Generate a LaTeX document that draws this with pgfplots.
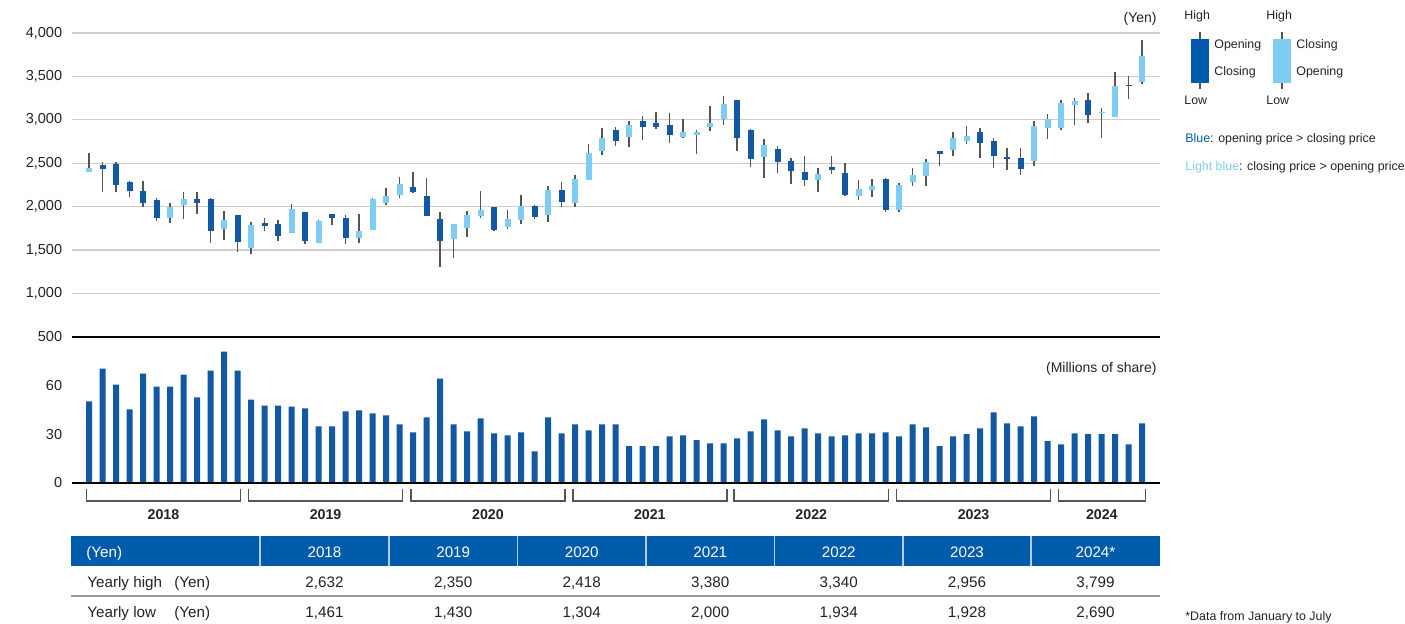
\documentclass[border=0pt]{standalone}
\usepackage{pgfplots}
\pgfplotsset{compat=1.18}
\usepackage{pgfplotstable}
\usepackage{fontspec}
\setmainfont{Liberation Sans}
\definecolor{cdark}{RGB}{18,88,162}
\definecolor{clight}{RGB}{127,205,243}
\definecolor{chead}{RGB}{0,91,170}
\definecolor{cgrid}{RGB}{205,205,205}
\definecolor{cwick}{RGB}{85,85,85}
\definecolor{ctext}{RGB}{35,35,35}
\newcommand{\fs}[1]{\fontsize{#1}{#1}\selectfont}

\pgfplotstableread{
i o c h l v
0 2404 2446 2616 2400 50.1
1 2484 2438 2519 2173 70.4
2 2496 2254 2512 2166 60.5
3 2285 2184 2300 2108 45.2
4 2181 2046 2300 2000 67.3
5 2077 1873 2097 1835 59.3
6 1873 1993 2043 1808 59.3
7 2023 2089 2170 1862 66.7
8 2089 2046 2170 1916 52.6
9 2089 1723 2095 1585 69.1
10 1743 1850 1947 1612 80.8
11 1904 1596 1904 1478 69.1
12 1527 1789 1820 1451 51.3
13 1808 1781 1866 1716 47.6
14 1800 1666 1843 1608 47.6
15 1700 1973 2031 1700 47.0
16 1939 1608 1939 1570 45.8
17 1585 1839 1847 1580 34.8
18 1916 1873 1916 1789 34.8
19 1870 1643 1904 1570 44.0
20 1643 1720 1916 1585 44.6
21 1735 2089 2095 1725 42.7
22 2043 2127 2219 2020 41.5
23 2135 2262 2339 2104 36.0
24 2227 2170 2400 2160 31.1
25 2123 1896 2327 1889 40.3
26 1858 1608 1942 1310 64.2
27 1627 1800 1805 1405 36.0
28 1758 1904 1950 1654 31.7
29 1896 1962 2185 1866 39.7
30 1996 1731 2000 1723 30.5
31 1766 1858 1962 1739 29.2
32 1850 2008 2131 1804 31.1
33 2008 1881 2020 1862 19.4
34 1904 2193 2239 1820 40.3
35 2193 2058 2281 2000 30.5
36 2039 2319 2366 2000 36.0
37 2311 2621 2725 2305 32.3
38 2638 2785 2911 2592 36.0
39 2877 2754 2919 2704 36.0
40 2800 2946 2992 2692 22.5
41 2981 2915 3046 2769 22.5
42 2958 2915 3092 2892 22.5
43 2946 2823 3081 2731 28.6
44 2800 2854 3004 2796 29.2
45 2823 2865 2888 2604 26.2
46 2915 2969 3157 2869 24.3
47 3004 3177 3269 2935 24.3
48 3223 2785 3230 2638 27.4
49 2888 2554 2892 2462 31.7
50 2577 2715 2777 2327 39.1
51 2669 2511 2700 2389 32.3
52 2531 2408 2562 2262 28.6
53 2404 2304 2581 2235 33.5
54 2304 2381 2446 2165 30.5
55 2462 2423 2585 2373 28.6
56 2389 2139 2504 2123 29.2
57 2127 2204 2312 2073 30.5
58 2196 2239 2319 2112 30.5
59 2323 1958 2327 1939 31.1
60 1966 2254 2273 1935 28.6
61 2281 2369 2446 2239 36.0
62 2358 2515 2550 2235 34.2
63 2635 2604 2640 2473 22.5
64 2650 2796 2865 2581 28.6
65 2754 2808 2934 2723 29.9
66 2865 2731 2900 2562 33.5
67 2761 2581 2796 2450 43.4
68 2573 2546 2677 2419 36.6
69 2562 2431 2677 2362 34.8
70 2523 2923 2985 2465 40.9
71 2904 3004 3065 2781 25.6
72 2904 3196 3234 2881 23.7
73 3169 3211 3249 2938 30.5
74 3223 3053 3307 2965 29.9
75 3080 3092 3138 2792 29.9
76 3038 3392 3554 3030 29.9
77 3404 3396 3500 3239 23.7
78 3438 3738 3915 3407 36.6
}\data

\pgfplotsset{
  common/.style={
    scale only axis, width=544pt,
    xmin=-1.26, xmax=79.33,
    axis line style={draw=none},
    xtick=\empty, major tick length=0pt,
    yticklabel style={font=\fs{7.25}, text=ctext, inner sep=0pt, xshift=-4.75pt},
    /pgf/number format/1000 sep={,},
    /pgf/number format/assume math mode=true,
    clip=false,
  }
}

\begin{document}
\begin{tikzpicture}
\path[use as bounding box] (0pt,0pt) rectangle (702.5pt,-311.5pt);

% price axis
\begin{axis}[common,
  at={(36pt,-168.4pt)}, anchor=south west,
  height=151.9pt, ymin=500, ymax=4000,
  ytick={500,1000,...,4000},
  ymajorgrids, grid style={cgrid, line width=0.6pt},
]
\addplot[draw=none, mark=none, forget plot,
  error bars/.cd, y dir=both, y explicit, error mark=none,
  error bar style={draw=cwick, line width=0.65pt, solid}]
  table[x=i, y expr={(\thisrow{h}+\thisrow{l})/2}, y error expr={(\thisrow{h}-\thisrow{l})/2}] {\data};
\addplot[draw=none, mark=none, forget plot,
  restrict expr to domain={\thisrow{o}-\thisrow{c}}{0:5000},
  error bars/.cd, y dir=both, y explicit, error mark=none,
  error bar style={draw=cdark, line width=3pt, solid}]
  table[x=i, y expr={(\thisrow{o}+\thisrow{c})/2}, y error expr={abs(\thisrow{o}-\thisrow{c})/2}] {\data};
\addplot[draw=none, mark=none, forget plot,
  restrict expr to domain={\thisrow{c}-\thisrow{o}}{0:5000},
  error bars/.cd, y dir=both, y explicit, error mark=none,
  error bar style={draw=clight, line width=3pt, solid}]
  table[x=i, y expr={(\thisrow{o}+\thisrow{c})/2}, y error expr={abs(\thisrow{o}-\thisrow{c})/2}] {\data};
\end{axis}

% volume axis
\begin{axis}[common,
  at={(36pt,-241.35pt)}, anchor=south west,
  height=72.95pt, ymin=0, ymax=90,
  ytick={0,30,60},
  ybar, bar width=3pt,
]
\addplot[fill=cdark, draw=none, bar shift=0pt] table[x=i, y=v] {\data};
\draw[black, line width=0.9pt] (rel axis cs:0,0) -- (rel axis cs:1,0);
\draw[black, line width=0.9pt] (rel axis cs:0,1) -- (rel axis cs:1,1);
\end{axis}

\begin{scope}[x=0.5pt,y=-0.5pt]
% units
\node[font=\fs{7}, text=ctext, anchor=east, inner sep=0pt] at (1157,19) {(Yen)};
\node[font=\fs{7}, text=ctext, anchor=east, inner sep=0pt] at (1157,368.5) {(Millions of share)};
% year brackets
\foreach \a/\b/\yr in {86.3/240.6/2018, 248.4/402.7/2019, 410.8/565.1/2020, 572.8/726.8/2021, 733.9/888.6/2022, 896.4/1050.7/2023, 1058.2/1145.4/2024} {
  \draw[cwick, line width=0.7pt] (\a,489) -- (\a,501) -- (\b,501) -- (\b,489);
  \node[font=\fs{7.1}\bfseries, text=ctext] at ({(\a+\b)/2},515) {\yr};
}
% legend
\begin{scope}[every node/.style={font=\fs{6.2}, text=ctext, anchor=west, inner sep=0pt}]
\node at (1184,16) {High};
\draw[cwick, line width=0.7pt] (1200,32) -- (1200,89);
\fill[chead] (1191,39) rectangle (1209.3,82.7);
\node at (1214,45) {Opening};
\node at (1214,72) {Closing};
\node at (1184,100) {Low};
\node at (1266,16) {High};
\draw[cwick, line width=0.7pt] (1282,32) -- (1282,89);
\fill[clight] (1273.3,39) rectangle (1291,82.7);
\node at (1296,45) {Closing};
\node at (1296,72) {Opening};
\node at (1266,100) {Low};
\node at (1185,139) {\textcolor{chead}{Blue}: opening price > closing price};
\node at (1185,167) {\textcolor{clight}{Light blue}: closing price > opening price};
\node at (1185,617) {*Data from January to July};
\end{scope}
% table
\fill[chead] (71,536) rectangle (1160,566);
\foreach \x in {260,389,517.5,646,774.5,903,1031}
  \draw[white!70!chead, line width=0.6pt] (\x,536) -- (\x,566);
\draw[black!40, line width=0.8pt] (71,596) -- (1160,596);
\begin{scope}[every node/.style={font=\fs{7.6}, inner sep=0pt, text height=0.72em, text depth=0.04em}]
\node[white, anchor=west] at (86,551) {(Yen)};
\node[white] at (324.5,551) {2018};
\node[white] at (453.25,551) {2019};
\node[white] at (581.75,551) {2020};
\node[white] at (710.25,551) {2021};
\node[white] at (838.75,551) {2022};
\node[white] at (967,551) {2023};
\node[white] at (1095.5,551) {2024*};
\node[text=ctext, anchor=west] at (87,581) {Yearly high};
\node[text=ctext, anchor=west] at (174,581) {(Yen)};
\node[text=ctext, anchor=west] at (87,611) {Yearly low};
\node[text=ctext, anchor=west] at (174,611) {(Yen)};
\node[text=ctext] at (324.5,581) {2,632};
\node[text=ctext] at (453.25,581) {2,350};
\node[text=ctext] at (581.75,581) {2,418};
\node[text=ctext] at (710.25,581) {3,380};
\node[text=ctext] at (838.75,581) {3,340};
\node[text=ctext] at (967,581) {2,956};
\node[text=ctext] at (1095.5,581) {3,799};
\node[text=ctext] at (324.5,611) {1,461};
\node[text=ctext] at (453.25,611) {1,430};
\node[text=ctext] at (581.75,611) {1,304};
\node[text=ctext] at (710.25,611) {2,000};
\node[text=ctext] at (838.75,611) {1,934};
\node[text=ctext] at (967,611) {1,928};
\node[text=ctext] at (1095.5,611) {2,690};
\end{scope}
\end{scope}
\end{tikzpicture}
\end{document}
